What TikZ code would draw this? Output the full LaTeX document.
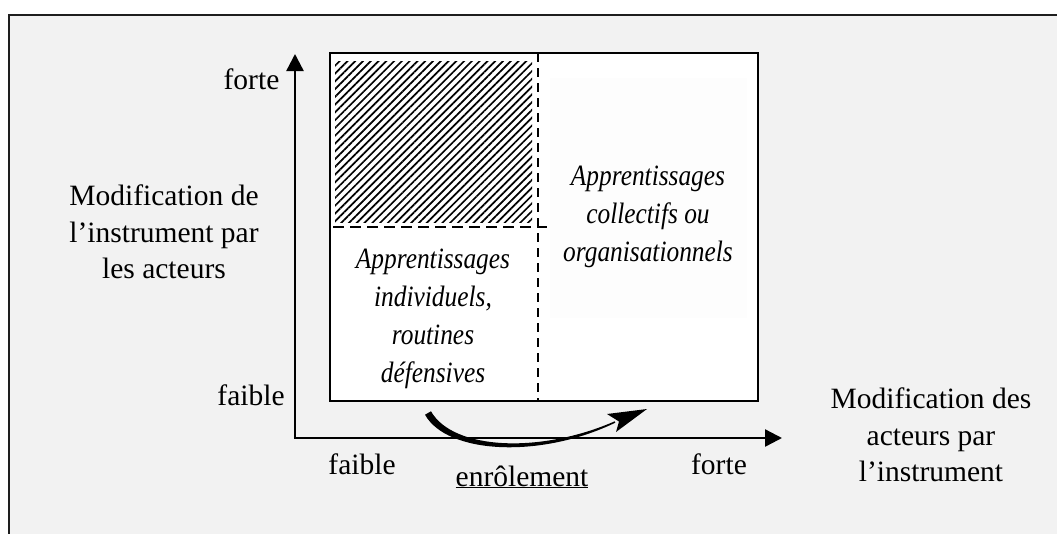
\documentclass[tikz,border=0pt]{standalone}
\usepackage{fontspec}
\setmainfont{Liberation Serif}
\newfontfamily\itf[FakeStretch=0.86]{Liberation Serif}
\usetikzlibrary{arrows.meta,patterns.meta}
\definecolor{bgcol}{HTML}{F2F2F2}
\definecolor{framecol}{HTML}{1E1E1E}
\definecolor{boxcol}{HTML}{FDFDFD}
\begin{document}
\begin{tikzpicture}[x=1pt,y=-1pt,
  lbl/.style={font=\fontsize{29.5}{36.5}\selectfont, align=center, inner sep=0pt},
  itl/.style={font=\itf\itshape\fontsize{29.5}{38}\selectfont, align=center, inner sep=0pt},
  axis/.style={line width=2.4pt, -{Triangle[length=17pt,width=17pt]}},
  dsh/.style={line width=1.8pt, dash pattern=on 11pt off 6pt}]
\useasboundingbox (0,0) rectangle (1057,533);
\clip (0,0) rectangle (1057,533);
\fill[white] (0,0) rectangle (1057,533);
\draw[line width=2.2pt, draw=framecol, fill=bgcol] (9,15) rectangle (1100,600);

% quadrant box
\coordinate (bl) at (330,401);
\coordinate (tr) at (758,53);
\draw[line width=2pt, fill=white] (bl) rectangle (tr);
\fill[boxcol] (550,78) rectangle (747,318);
\fill[pattern={Lines[angle=45,distance=5.5pt,line width=1.7pt]}] (335,61) rectangle (532,222);
\coordinate (hl) at (333,227);
\coordinate (hr) at (547,227);
\coordinate (vt) at (538,53);
\coordinate (vb) at (538,401);
\draw[dsh] (hl) -- (hr);
\draw[dsh, dash pattern=on 9pt off 6pt] (vt) -- (vb);

% axes
\coordinate (O) at (295,438);
\coordinate (ytip) at (295,54);
\coordinate (xtip) at (782,438);
\draw[axis] (O) -- (ytip);
\draw[axis] ([xshift=-1.2pt]O) -- (xtip);

% tapered curved arrow (enrolement)
\coordinate (cs) at (428,413);
\coordinate (ce) at (647,409);
\fill (431,411.3) .. controls (453,450) and (540,454) .. (614.7,421.3)
   -- (615.3,422.7) .. controls (540,459) and (447,454) .. (425,414.7) -- cycle;
\fill (ce) -- (607,414) -- (619,421.5) -- (616,432) -- cycle;

% labels
\node[lbl, anchor=base] (yhigh) at (251.5,89) {forte};
\node[lbl, anchor=base] (ylow) at (251,405) {faible};
\node[lbl] (ytitle) at (164,232) {Modification de\\ l’instrument par\\ les acteurs};
\node[lbl, anchor=base] (xlow) at (362,474) {faible};
\node[lbl, anchor=base] (xhigh) at (719,474) {forte};
\node[lbl, anchor=base] (enr) at (522,486) {\underline{enrôlement}};
\node[lbl] (xtitle) at (931,435) {Modification des\\ acteurs par\\ l’instrument};
\node[itl] (q1) at (433,319) {Apprentissages\\ individuels,\\ routines\\ défensives};
\node[itl] (q2) at (648,217) {Apprentissages\\ collectifs ou\\ organisationnels};
\end{tikzpicture}
\end{document}
